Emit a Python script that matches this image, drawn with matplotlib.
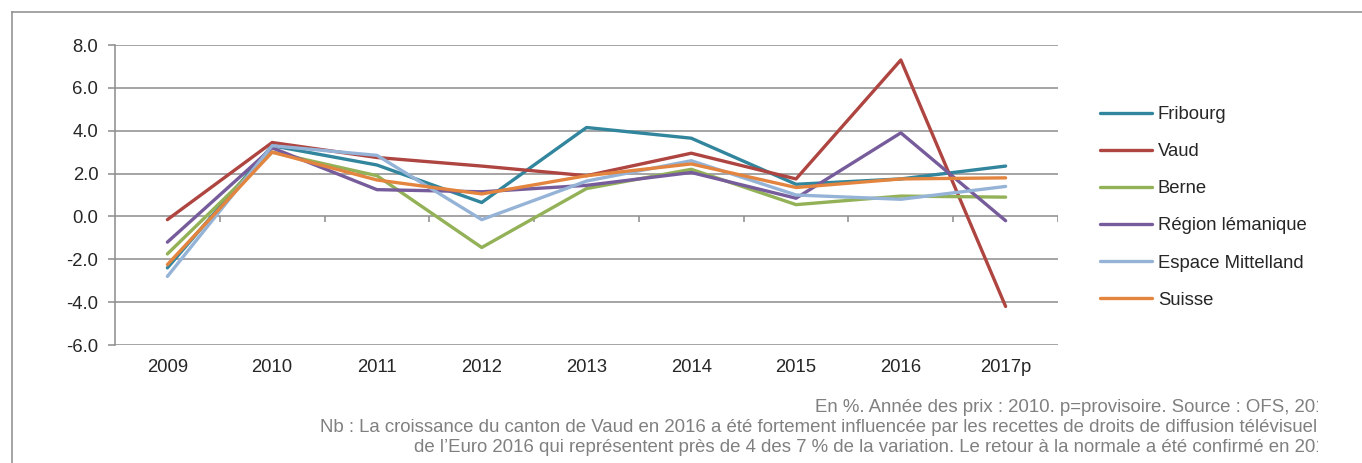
import matplotlib as mpl
mpl.use('Agg')
import matplotlib.pyplot as plt
import numpy as np
from matplotlib.lines import Line2D
from matplotlib.transforms import Bbox, TransformedBbox

# données (croissance du PIB réel, en %)
years = ['2009', '2010', '2011', '2012', '2013', '2014', '2015', '2016', '2017p']
fribourg = [-2.4, 3.3, 2.4, 0.65, 4.15, 3.65, 1.5, 1.75, 2.35]
vaud = [-0.15, 3.45, 2.75, 2.35, 1.9, 2.95, 1.75, 7.3, -4.2]
berne = [-1.75, 3.0, 1.9, -1.45, 1.3, 2.2, 0.55, 0.95, 0.9]
region_lemanique = [-1.2, 3.2, 1.25, 1.15, 1.45, 2.05, 0.85, 3.9, -0.2]
espace_mittelland = [-2.8, 3.3, 2.85, -0.15, 1.65, 2.6, 1.0, 0.8, 1.4]
suisse = [-2.25, 3.0, 1.7, 1.05, 1.9, 2.45, 1.35, 1.75, 1.8]

series = [
  ('Fribourg', fribourg, '#31859C'),
  ('Vaud', vaud, '#AE4541'),
  ('Berne', berne, '#93B157'),
  ('Région lémanique', region_lemanique, '#775C9C'),
  ('Espace Mittelland', espace_mittelland, '#95B3D7'),
  ('Suisse', suisse, '#E3853F'),
]

footnote = [
  "En %. Année des prix : 2010. p=provisoire. Source : OFS, 2018.",
  "Nb : La croissance du canton de Vaud en 2016 a été fortement influencée par les recettes de droits de diffusion télévisuelles",
  "de l’Euro 2016 qui représentent près de 4 des 7 % de la variation. Le retour à la normale a été confirmé en 2017.",
]

plt.rcParams['font.family'] = ['Liberation Sans', 'DejaVu Sans']
W, H = 1362, 463
fs = 13.3
fig = plt.figure(figsize=(W / 100, H / 100), dpi=100)
ax = fig.add_axes([115 / W, 1 - 345 / H, (1058 - 115) / W, 300 / H])

grey = '#8C8C8C'
x = np.arange(len(years))
for name, vals, col in series:
  ax.plot(x, vals, color=col, linewidth=2.4, label=name, solid_capstyle='round')

ax.set_xlim(-0.5, len(years) - 0.5)
ax.set_ylim(-6, 8)
ax.set_yticks(np.arange(-6, 9, 2))
ax.set_yticklabels(['%.1f' % v for v in np.arange(-6, 9, 2)])
ax.set_xticks(x)
ax.set_xticklabels(years)
ax.tick_params(axis='x', length=0, pad=10, labelsize=fs, labelcolor='#262626')
ax.tick_params(axis='y', length=5, width=1.1, color=grey, pad=7, labelsize=fs, labelcolor='#262626')
ax.yaxis.grid(True, color=grey, linewidth=1.1)
ax.set_axisbelow(True)
for s in ['top', 'right', 'bottom']:
  ax.spines[s].set_visible(False)
ax.spines['left'].set_color(grey)
ax.spines['left'].set_linewidth(1.1)

# petites graduations sur l'axe zéro, entre les catégories
ax.vlines(np.arange(len(years)) + 0.5, -0.28, 0, color=grey, linewidth=1.1, zorder=1)

leg = ax.legend(loc='upper left', bbox_to_anchor=(1100 / W, 1 - 106 / H),
                bbox_transform=fig.transFigure, frameon=False, fontsize=fs,
                handlelength=2.8, handletextpad=0.33, labelspacing=1.09,
                borderpad=0, borderaxespad=0)
for t in leg.get_texts():
  t.set_color('#262626')

# cadre (haut et gauche)
fig.add_artist(Line2D([12 / W, 12 / W], [0, 1 - 12 / H], transform=fig.transFigure,
                      color=grey, linewidth=1.1))
fig.add_artist(Line2D([12 / W, 1], [1 - 12 / H, 1 - 12 / H], transform=fig.transFigure,
                      color=grey, linewidth=1.1))

# note de bas de page, coupée à droite comme dans l'original
clip = TransformedBbox(Bbox([[0, 0], [1318 / W, 1]]), fig.transFigure)
for i, line in enumerate(footnote):
  t = fig.text(1341 / W, 1 - (408 + 20 * i) / H, line, ha='right', va='center',
               fontsize=13.4, color='#808080')
  t.set_clip_box(clip)
  t.set_clip_on(True)

fig.savefig('out.png', dpi=100)
